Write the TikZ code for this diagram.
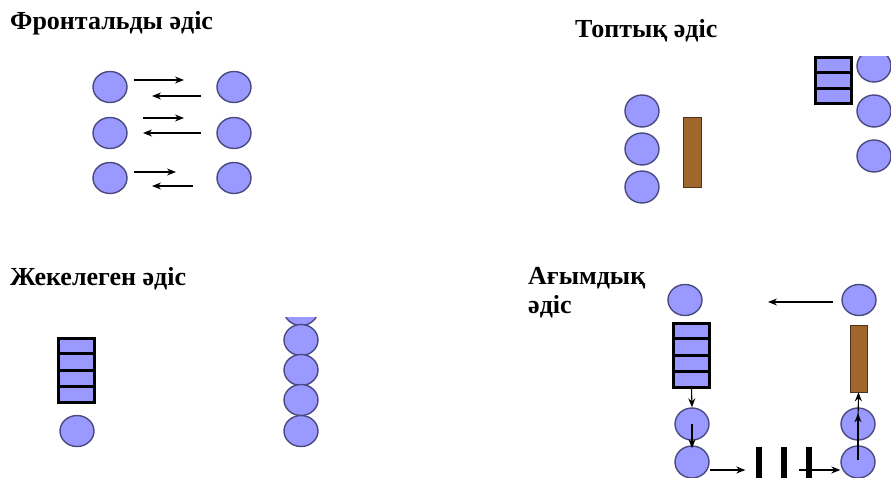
\documentclass[tikz,border=0pt]{standalone}
\usepackage{fontspec}
\setmainfont{Liberation Serif}
\usetikzlibrary{shapes.geometric,arrows.meta,calc}
\definecolor{cfill}{HTML}{9999FF}
\definecolor{cdraw}{HTML}{4A4A80}
\definecolor{brownbar}{HTML}{A0662C}
\tikzset{
  x=1pt,y=-1pt,
  pupil/.style={ellipse,draw=cdraw,fill=cfill,line width=1.4pt,minimum width=34pt,minimum height=31pt,inner sep=0pt},
  ladder/.style={rectangle,draw=black,fill=cfill,line width=3pt,minimum width=36pt,inner sep=0pt},
  rung/.style={line width=3pt,draw=black},
  desk/.style={rectangle,draw=brown!40!black,fill=brownbar,line width=0.6pt,inner sep=0pt},
  bar/.style={rectangle,fill=black,inner sep=0pt,minimum width=6pt},
  title/.style={font=\bfseries\fontsize{26}{30}\selectfont,anchor=base west,inner sep=0pt},
  arr/.style={-{Stealth[length=9pt,width=7pt]},line width=1.1pt},
}
\begin{document}
\begin{tikzpicture}
\useasboundingbox (0,0) rectangle (891,478);
\clip (0,0) rectangle (891,478);
\fill[white] (0,0) rectangle (891,478);

% ---------- Frontal
\node[title] (t1) at (10,30) {Фронтальды әдіс};
\node[pupil] (f1l) at (110,87) {};
\node[pupil] (f2l) at (110,133) {};
\node[pupil] (f3l) at (110,178) {};
\node[pupil] (f1r) at (234,87) {};
\node[pupil] (f2r) at (234,133) {};
\node[pupil] (f3r) at (234,178) {};
\coordinate (a1s) at (134,80); \coordinate (a1e) at (184,80);
\coordinate (b1s) at (201,96); \coordinate (b1e) at (152,96);
\coordinate (a2s) at (143,118); \coordinate (a2e) at (184,118);
\coordinate (b2s) at (201,133); \coordinate (b2e) at (143,133);
\coordinate (a3s) at (134,172); \coordinate (a3e) at (176,172);
\coordinate (b3s) at (193,186); \coordinate (b3e) at (152,186);
\draw[arr] (a1s) -- (a1e);
\draw[arr] (b1s) -- (b1e);
\draw[arr] (a2s) -- (a2e);
\draw[arr] (b2s) -- (b2e);
\draw[arr] (a3s) -- (a3e);
\draw[arr] (b3s) -- (b3e);

% ---------- Group
\node[title] (t2) at (575,38) {Топтық әдіс};
\node[pupil,minimum height=32pt] (g1) at (642,111) {};
\node[pupil,minimum height=32pt] (g2) at (642,149) {};
\node[pupil,minimum height=32pt] (g3) at (642,187) {};
\node[desk,minimum width=18pt,minimum height=70pt] (gd) at (692,152) {};
\node[ladder,minimum width=36pt,minimum height=46pt] (gl) at (833.5,80.5) {};
\draw[rung] ($(gl.north west)!1/3!(gl.south west)$) -- ($(gl.north east)!1/3!(gl.south east)$);
\draw[rung] ($(gl.north west)!2/3!(gl.south west)$) -- ($(gl.north east)!2/3!(gl.south east)$);
\begin{scope}
\clip (840,57) rectangle (891,478);
\node[pupil,minimum height=32pt] (g4) at (874,66) {};
\end{scope}
\node[pupil,minimum height=32pt] (g5) at (874,111) {};
\node[pupil,minimum height=32pt] (g6) at (874,156) {};

% ---------- Individual
\node[title] (t3) at (10,285) {Жекелеген әдіс};
\node[ladder,minimum width=36pt,minimum height=64pt] (il) at (76,370) {};
\foreach \k in {1,2,3}{
  \draw[rung] ($(il.north west)!\k/4!(il.south west)$) -- ($(il.north east)!\k/4!(il.south east)$);
}
\node[pupil] (ip) at (77,431) {};
\begin{scope}
\clip (270,317) rectangle (330,478);
\node[pupil] (c0) at (301,310) {};
\end{scope}
\node[pupil] (c1) at (301,340) {};
\node[pupil] (c2) at (301,370) {};
\node[pupil] (c3) at (301,400) {};
\node[pupil] (c4) at (301,431) {};

% ---------- Flow
\node[title] (t4) at (528,284) {Ағымдық};
\node[title] (t5) at (528,313) {әдіс};
\node[pupil] (p1) at (685,300) {};
\node[pupil] (p2) at (859,300) {};
\coordinate (q1) at (833,302);
\coordinate (q2) at (768,302);
\draw[arr] (q1) -- (q2);
\node[ladder,minimum width=36pt,minimum height=64pt] (fl) at (691.5,355) {};
\foreach \k in {1,2,3}{
  \draw[rung] ($(fl.north west)!\k/4!(fl.south west)$) -- ($(fl.north east)!\k/4!(fl.south east)$);
}
\node[desk,minimum width=17pt,minimum height=67pt] (fd) at (858.5,358.5) {};
\node[pupil,minimum height=32pt] (p3) at (692,424) {};
\node[pupil,minimum height=32pt] (p4) at (692,462) {};
\node[pupil,minimum height=32pt] (p5) at (858,424) {};
\node[pupil,minimum height=32pt] (p6) at (858,462) {};
\node[bar,minimum height=32pt] (bar1) at (758.5,463) {};
\node[bar,minimum height=32pt] (bar2) at (783.5,463) {};
\node[bar,minimum height=32pt] (bar3) at (808.5,463) {};
\draw[arr] (fl.south) -- (p3.north);
\draw[arr] (p3.center) -- ($(p4.north)+(0,3)$);
\draw[arr] ($(p4.east)+(0,8)$) -- ($(bar1.west)+(-10,7)$);
\draw[arr] ($(bar3.west)+(-6,7)$) -- ($(p6.west)+(0,8)$);
\draw[arr] ($(p6.center)+(0,-2)$) -- ($(p5.north)+(0,6)$);
\draw[arr] ($(p5.center)+(0,-2)$) -- (fd.south);
\end{tikzpicture}
\end{document}
